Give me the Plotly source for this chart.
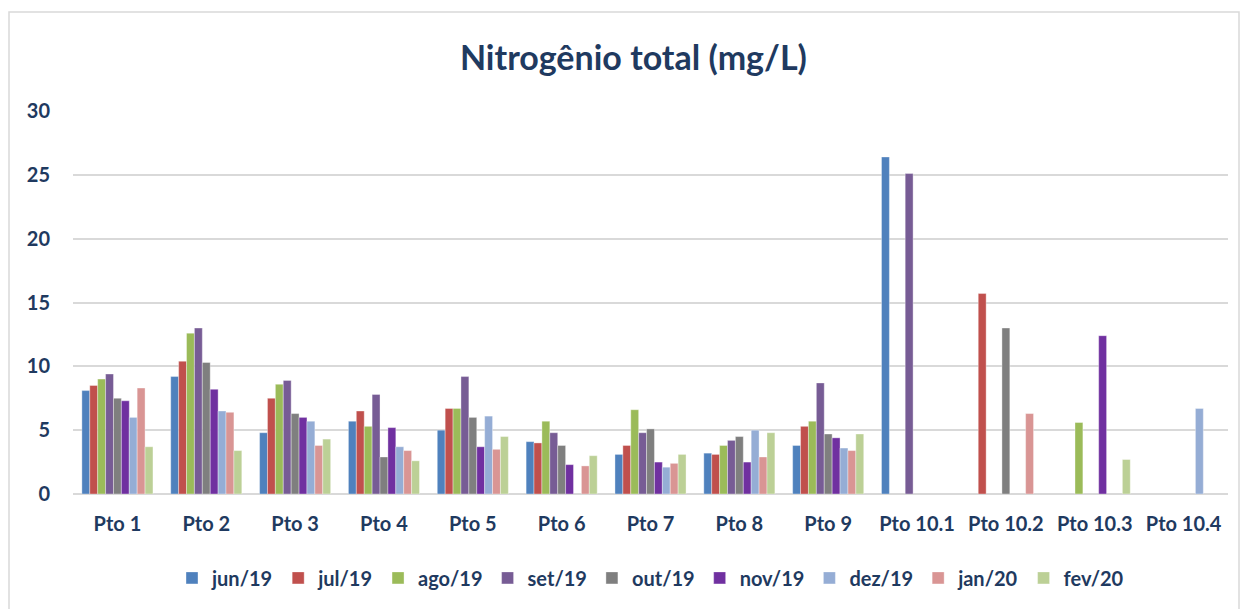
import plotly.graph_objects as go

pontos = ['Pto 1', 'Pto 2', 'Pto 3', 'Pto 4', 'Pto 5', 'Pto 6', 'Pto 7', 'Pto 8',
          'Pto 9', 'Pto 10.1', 'Pto 10.2', 'Pto 10.3', 'Pto 10.4']

jun19 = [8.1, 9.2, 4.8, 5.7, 5.0, 4.1, 3.1, 3.2, 3.8, 26.4, None, None, None]
jul19 = [8.5, 10.4, 7.5, 6.5, 6.7, 4.0, 3.8, 3.1, 5.3, None, 15.7, None, None]
ago19 = [9.0, 12.6, 8.6, 5.3, 6.7, 5.7, 6.6, 3.8, 5.7, None, None, 5.6, None]
set19 = [9.4, 13.0, 8.9, 7.8, 9.2, 4.8, 4.8, 4.2, 8.7, 25.1, None, None, None]
out19 = [7.5, 10.3, 6.3, 2.9, 6.0, 3.8, 5.1, 4.5, 4.7, None, 13.0, None, None]
nov19 = [7.3, 8.2, 6.0, 5.2, 3.7, 2.3, 2.5, 2.5, 4.4, None, None, 12.4, None]
dez19 = [6.0, 6.5, 5.7, 3.7, 6.1, None, 2.1, 5.0, 3.6, None, None, None, 6.7]
jan20 = [8.3, 6.4, 3.8, 3.4, 3.5, 2.2, 2.4, 2.9, 3.4, None, 6.3, None, None]
fev20 = [3.7, 3.4, 4.3, 2.6, 4.5, 3.0, 3.1, 4.8, 4.7, None, None, 2.7, None]

series = [
    ('jun/19', jun19, '#4F81BD'),
    ('jul/19', jul19, '#C0504D'),
    ('ago/19', ago19, '#9BBB59'),
    ('set/19', set19, '#775C95'),
    ('out/19', out19, '#7F7F7F'),
    ('nov/19', nov19, '#7030A0'),
    ('dez/19', dez19, '#95ADD5'),
    ('jan/20', jan20, '#D99594'),
    ('fev/20', fev20, '#BCD096'),
]

navy = '#1F3A60'
fonte = 'Lato'

fig = go.Figure()
for nome, valores, cor in series:
    fig.add_trace(go.Bar(x=pontos, y=valores, name=nome, marker_color=cor,
                         marker_line=dict(color='rgba(255,255,255,0.6)', width=0.6)))

fig.update_layout(
    width=1242, height=609,
    barmode='group', bargap=0.2, bargroupgap=0,
    plot_bgcolor='white', paper_bgcolor='white',
    margin=dict(l=73, r=14, t=111, b=115),
    title=dict(text='<b>Nitrogênio total (mg/L)</b>', x=0.51, xanchor='center',
               y=0.905, yanchor='middle',
               font=dict(family=fonte, size=34, color=navy)),
    font=dict(family=fonte, color=navy),
    legend=dict(orientation='h', x=0.5, xanchor='center', y=-0.219, yanchor='middle',
                font=dict(family=fonte, size=20, color=navy, weight='bold'),
                itemwidth=30, traceorder='normal'),
    showlegend=True,
)

fig.update_yaxes(range=[0, 30], dtick=5, showgrid=True, gridcolor='#D9D9D9', gridwidth=1.5,
                 zeroline=True, zerolinecolor='#D9D9D9', zerolinewidth=1.5,
                 tickfont=dict(family=fonte, size=20, color=navy, weight='bold'),
                 ticklabelstandoff=22)
fig.update_xaxes(showline=False, ticks='',
                 tickfont=dict(family=fonte, size=20, color=navy, weight='bold'),
                 ticklabelstandoff=16)

# moldura do gráfico
fig.add_shape(type='rect', xref='paper', yref='paper',
              x0=-64 / 1155, x1=1 + 11 / 1155, y0=-120 / 383, y1=1 + 99 / 383,
              line=dict(color='#D9D9D9', width=1.5))

# tira a margem padrão do body da página
fig.write_html('out.html', config={'displayModeBar': False},
               post_script="document.body.style.margin='0';")
